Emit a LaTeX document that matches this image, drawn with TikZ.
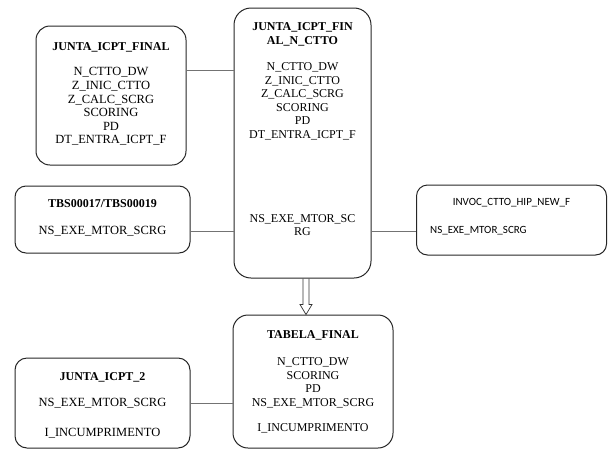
\documentclass[tikz,border=0pt]{standalone}
\usepackage{fontspec}
\setmainfont{Liberation Serif}
\newfontfamily\calfont{Carlito}
\usetikzlibrary{calc}

\tikzset{
  tbl/.style={draw=black!85, line width=1pt, inner sep=0pt},
  ttl/.style={font=\bfseries\fontsize{12}{13.8}\selectfont, inner sep=0pt, align=center},
  fld/.style={font=\fontsize{12}{13.5}\selectfont, inner sep=0pt, align=center},
  fldb/.style={font=\fontsize{12.5}{14}\selectfont, inner sep=0pt, align=center},
  lnk/.style={draw=black!55, line width=0.7pt},
}

\begin{document}
\begin{tikzpicture}[x=1pt,y=-1pt]
  \useasboundingbox (0,0) rectangle (609,450);

  % boxes
  \node[tbl, rounded corners=14pt, minimum width=150pt, minimum height=139pt] (jfin) at (111,95.5) {};
  \node[tbl, rounded corners=17pt, minimum width=137pt, minimum height=270pt] (jctto) at (302.5,143) {};
  \node[tbl, rounded corners=11pt, minimum width=175pt, minimum height=67pt] (tbs) at (102.5,219.5) {};
  \node[tbl, rounded corners=11pt, minimum width=190pt, minimum height=70pt] (invoc) at (511.5,220) {};
  \node[tbl, rounded corners=15pt, minimum width=160pt, minimum height=133pt] (tfin) at (313,381.5) {};
  \node[tbl, rounded corners=12pt, minimum width=175pt, minimum height=90pt] (j2) at (102.5,403) {};

  % JUNTA_ICPT_FINAL
  \node[ttl] (jfinT) at (111,47) {JUNTA\_ICPT\_FINAL};
  \node[fld, font=\fontsize{12.5}{13.6}\selectfont] (jfinF) at (111,106.5) {N\_CTTO\_DW\\Z\_INIC\_CTTO\\Z\_CALC\_SCRG\\SCORING\\PD\\DT\_ENTRA\_ICPT\_F};

  % JUNTA_ICPT_FINAL_N_CTTO
  \node[ttl] (jcttoT) at (302.5,34.5) {JUNTA\_ICPT\_FIN\\AL\_N\_CTTO};
  \node[fld] (jcttoF) at (302.5,101.5) {N\_CTTO\_DW\\Z\_INIC\_CTTO\\Z\_CALC\_SCRG\\SCORING\\PD\\DT\_ENTRA\_ICPT\_F};
  \node[fld] (jcttoN) at (302.5,225) {NS\_EXE\_MTOR\_SC\\RG};

  % TBS00017/TBS00019
  \node[ttl] (tbsT) at (102.5,203.5) {TBS00017/TBS00019};
  \node[fldb] (tbsF) at (102.5,231.5) {NS\_EXE\_MTOR\_SCRG};

  % INVOC_CTTO_HIP_NEW_F
  \node[font=\calfont\fontsize{11}{13}\selectfont, inner sep=0pt] (invocT) at (511.5,202.5) {INVOC\_CTTO\_HIP\_NEW\_F};
  \node[font=\calfont\fontsize{11}{13}\selectfont, inner sep=0pt, anchor=west] (invocF) at (430,230.5) {NS\_EXE\_MTOR\_SCRG};

  % TABELA_FINAL
  \node[ttl] (tfinT) at (313,335.5) {TABELA\_FINAL};
  \node[fld] (tfinF) at (313,383) {N\_CTTO\_DW\\SCORING\\PD\\NS\_EXE\_MTOR\_SCRG};
  \node[fld] (tfinI) at (313,428.5) {I\_INCUMPRIMENTO};

  % JUNTA_ICPT_2
  \node[ttl] (j2T) at (102.5,377.5) {JUNTA\_ICPT\_2};
  \node[fldb] (j2F) at (102.5,403.5) {NS\_EXE\_MTOR\_SCRG};
  \node[fldb] (j2I) at (102.5,433.5) {I\_INCUMPRIMENTO};

  % links
  \draw[lnk] (jfin.east|-0,70) -- (jctto.west|-0,70);
  \draw[lnk] (tbs.east|-0,231) -- (jctto.west|-0,231);
  \draw[lnk] (jctto.east|-0,231) -- (invoc.west|-0,231);
  \draw[lnk] (j2.east) -- (tfin.west|-j2.east);

  % hollow block arrow
  \coordinate (arrS) at (jctto.south-|306,0);
  \coordinate (arrE) at (tfin.north-|306,0);
  \draw[black!80, line width=0.7pt, line join=miter]
    ($(arrS)+(-3,0)$) -- ($(arrE)+(-3,-10)$) -- ($(arrE)+(-6,-10)$) -- (arrE)
    -- ($(arrE)+(6,-10)$) -- ($(arrE)+(3,-10)$) -- ($(arrS)+(3,0)$);
\end{tikzpicture}
\end{document}
